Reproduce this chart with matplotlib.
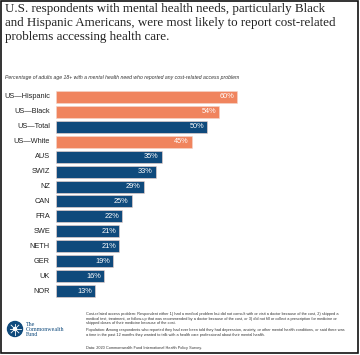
import math

import matplotlib

matplotlib.use("Agg")
import matplotlib.pyplot as plt  # noqa: E402
from matplotlib.patches import Circle, Rectangle  # noqa: E402

groups = ["US\u2014Hispanic", "US\u2014Black", "US\u2014Total", "US\u2014White",
          "AUS", "SWIZ", "NZ", "CAN", "FRA", "SWE", "NETH", "GER", "UK", "NOR"]
values = [60, 54, 50, 45, 35, 33, 29, 25, 22, 21, 21, 19, 16, 13]
highlight = [True, True, False, True] + [False] * 10

ORANGE = "#F0845E"
NAVY = "#0F4A7C"

title = ("U.S. respondents with mental health needs, particularly Black\n"
         "and Hispanic Americans, were most likely to report cost-related\n"
         "problems accessing health care.")
subtitle = ("Percentage of adults age 18+ with a mental health need who reported "
            "any cost-related access problem")
notes = [
    ("Cost-related access problem: Respondent either 1) had a medical problem but did not "
     "consult with or visit a doctor because of the cost, 2) skipped a\nmedical test, "
     "treatment, or follow-up that was recommended by a doctor because of the cost, or 3) "
     "did not fill or collect a prescription for medicine or\nskipped doses of their "
     "medicine because of the cost."),
    ("Population: Among respondents who reported they had ever been told they had "
     "depression, anxiety, or other mental health conditions, or said there was\na time in "
     "the past 12 months they wanted to talk with a health care professional about their "
     "mental health."),
    "Data: 2020 Commonwealth Fund International Health Policy Survey.",
]

W, H = 360, 355
fig = plt.figure(figsize=(W / 100, H / 100), dpi=100)
fig.patch.set_facecolor("white")


def fx(px):
    return px / W


def fy(py):
    return 1 - py / H


fig.text(fx(5), fy(3), title, ha="left", va="top", family="Liberation Serif",
         fontsize=9.4, color="#222222", linespacing=1.2)
fig.text(fx(5), fy(77), subtitle, ha="left", va="center", family="Liberation Sans",
         style="italic", fontsize=3.7, color="#333333")

ax = fig.add_axes([fx(56), fy(298.5), fx(302), 209 / H])
colors = [ORANGE if h else NAVY for h in highlight]
y = list(range(len(groups)))
ax.barh(y, values, height=0.8, color=colors, edgecolor="#f4d6cc", linewidth=0.4)
ax.set_xlim(0, 100)
ax.set_ylim(len(groups) - 0.5, -0.5)
ax.axis("off")
for yi, v, g in zip(y, values, groups):
    ax.text(v - 1, yi, f"{v}%", ha="right", va="center", color="white",
            fontsize=5.3, family="Liberation Sans")
    ax.text(-2, yi, g, ha="right", va="center", color="#222222",
            fontsize=5.3, family="Liberation Sans")

ny = [312, 328.5, 345.5]
for n, yy in zip(notes, ny):
    fig.text(fx(86), fy(yy), n, ha="left", va="top", family="Liberation Sans",
             fontsize=2.78, color="#333333", linespacing=1.2)

# logo
lax = fig.add_axes([0, 0, 1, 1], facecolor="none")
lax.set_xlim(0, W)
lax.set_ylim(H, 0)
lax.axis("off")
lax.add_patch(Circle((15, 329), 7.5, color=NAVY))
for k in range(8):
    a = k * math.pi / 4
    lax.plot([15, 15 + 5.5 * math.cos(a)], [329, 329 + 5.5 * math.sin(a)],
             color="white", lw=0.6)
lax.add_patch(Circle((15, 329), 1.5, color="white"))
fig.text(fx(26), fy(322), "The\nCommonwealth\nFund", ha="left", va="top",
         family="Liberation Serif", fontsize=4.3, color=NAVY, linespacing=0.95)

# frame
lax.add_patch(Rectangle((0.5, 0.5), W - 3, H - 2.5, fill=False, ec="#111111", lw=1.2))

fig.savefig("out.png", dpi=100, facecolor="white")
